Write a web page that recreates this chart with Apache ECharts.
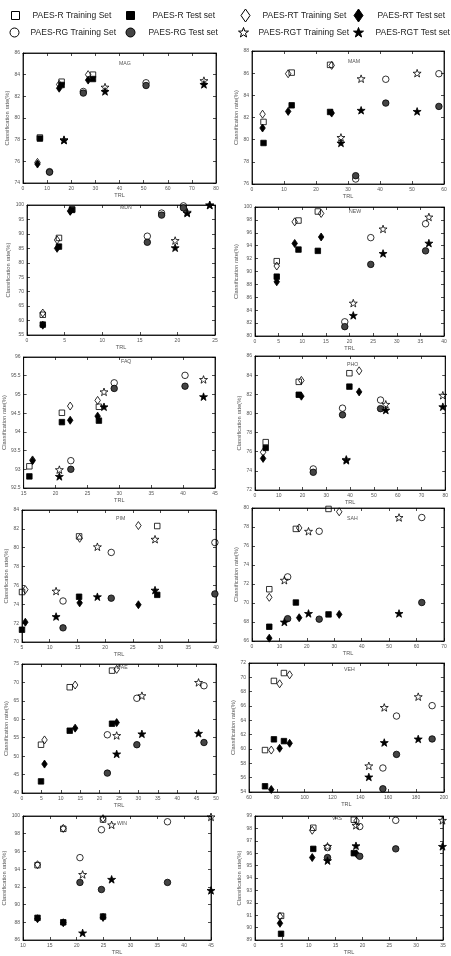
<!DOCTYPE html>
<html>
<head>
<meta charset="utf-8">
<script src="https://cdn.jsdelivr.net/npm/echarts@6/dist/echarts.min.js"></script>
<style>
html,body{margin:0;padding:0;background:#fff;}
#chart{width:451px;height:956px;}
</style>
</head>
<body>
<div id="chart"></div>
<script>
// panel names and axis ranges [min, max, step]
var panels = ['MAG', 'MAM', 'MDN', 'NEW', 'FAQ', 'PHO', 'PIM', 'SAH', 'WAE', 'VEH', 'WIN', 'VAS'];
var xRange = [[0,80,10],[0,60,10],[0,25,5],[0,40,5],[15,45,5],[0,80,10],[5,40,5],[0,70,10],[0,50,5],[60,200,20],[10,45,5],[0,35,5]];
var yRange = [[74,86,2],[76,88,2],[55,100,5],[80,100,2],[92.5,96,0.5],[72,86,2],[70,84,2],[66,80,2],[40,75,5],[54,72,2],[86,100,2],[89,99,1]];

// rows: [TRL, training rate, test rate]
var mag_R   = [[7,78.2,78.1],[16,83.35,83.05],[29,84.0,83.6]];
var mag_RT  = [[6,75.9,75.75],[15,83.1,82.75],[27,84.0,83.5]];
var mag_RG  = [[11,75.05,75.0],[25,82.45,82.3],[51,83.25,83.0]];
var mag_RGT = [[17,78.0,77.95],[34,82.85,82.45],[75,83.45,83.1]];

var mam_R   = [[3.6,81.6,79.7],[12.4,86.05,83.1],[24.4,86.75,82.5]];
var mam_RT  = [[3.3,82.3,81.05],[11.3,85.95,82.55],[24.9,86.7,82.4]];
var mam_RG  = [[32.4,76.45,76.75],[41.8,85.45,83.3],[58.4,85.95,83.0]];
var mam_RGT = [[27.8,80.2,79.7],[34.1,85.5,82.65],[51.6,86.0,82.55]];

var mdn_R   = [[2.1,62.0,58.6],[4.25,88.6,85.6],[6.0,98.5,98.3]];
var mdn_RT  = [[2.1,62.6,58.4],[4.0,87.9,85.0],[5.75,98.0,97.8]];
var mdn_RG  = [[16.0,89.2,87.1],[17.9,97.2,96.5],[20.8,99.7,99.0]];
var mdn_RGT = [[19.7,87.7,85.2],[21.3,97.5,97.2],[24.3,100,100]];

var new_R   = [[4.6,91.6,89.2],[9.2,97.9,93.4],[13.3,99.3,93.2]];
var new_RT  = [[4.6,90.85,88.4],[8.4,97.7,94.35],[14.0,99.0,95.35]];
var new_RG  = [[19.0,82.2,81.45],[24.5,95.25,91.1],[36.1,97.4,93.2]];
var new_RGT = [[20.8,85.1,83.2],[27.1,96.6,92.8],[36.8,98.45,94.4]];

var faq_R   = [[15.9,93.08,92.81],[21.0,94.51,94.26],[26.8,94.67,94.30]];
var faq_RT  = [[16.4,93.25,93.23],[22.3,94.69,94.31],[26.6,94.84,94.42]];
var faq_RG  = [[22.4,93.23,93.0],[29.2,95.31,95.16],[40.3,95.51,95.22]];
var faq_RGT = [[20.6,92.99,92.81],[27.6,95.07,94.67],[43.2,95.40,94.94]];

var pho_R   = [[4.5,77.0,76.4],[18.4,83.3,81.95],[39.7,84.2,82.8]];
var pho_RT  = [[3.4,75.95,75.3],[19.5,83.45,81.8],[43.8,84.45,82.25]];
var pho_RG  = [[24.5,74.2,73.85],[36.8,80.55,79.85],[52.8,81.4,80.5]];
var pho_RGT = [[38.4,75.2,75.1],[55.0,80.95,80.35],[79.0,81.9,80.7]];

var pim_R   = [[5.0,75.3,71.3],[15.3,81.2,74.8],[29.4,82.3,75.0]];
var pim_RT  = [[5.6,75.55,72.1],[15.4,81.0,74.15],[26.0,82.35,73.95]];
var pim_RG  = [[12.4,74.35,71.5],[21.1,79.5,74.65],[39.8,80.55,75.1]];
var pim_RGT = [[11.15,75.4,72.7],[18.6,80.1,74.8],[29.0,80.9,75.5]];

var sah_R   = [[6.3,71.45,67.5],[16.0,77.8,70.05],[27.9,79.9,68.8]];
var sah_RT  = [[6.3,70.6,66.3],[17.2,77.9,68.45],[31.8,79.6,68.8]];
var sah_RG  = [[13.0,72.75,68.35],[24.5,77.55,68.3],[61.9,79.0,70.05]];
var sah_RGT = [[11.8,72.4,68.0],[20.6,77.55,68.9],[53.6,79.0,68.9]];

var wae_R   = [[4.9,53.1,43.15],[12.3,68.7,56.9],[23.2,73.2,58.8]];
var wae_RT  = [[5.8,54.4,47.85],[13.7,69.3,57.6],[24.4,73.55,59.1]];
var wae_RG  = [[22.0,55.8,45.4],[29.6,65.7,53.1],[46.9,69.1,53.7]];
var wae_RGT = [[24.4,55.6,50.6],[30.9,66.4,56.05],[45.5,70.0,56.2]];

var veh_R   = [[71.5,59.85,54.8],[77.9,69.5,61.35],[85.1,70.6,61.1]];
var veh_RT  = [[76.0,59.85,54.35],[82.0,69.1,60.1],[89.2,70.35,60.8]];
var veh_RG  = [[156.2,57.35,54.45],[166.0,64.6,59.25],[191.6,66.05,61.4]];
var veh_RGT = [[146.1,57.65,56.1],[157.2,65.8,60.9],[181.6,67.3,61.4]];

var win_R   = [[12.7,94.45,88.5],[17.5,98.55,88.0],[24.9,99.6,88.65]];
var win_RT  = [[12.7,94.5,88.4],[17.5,98.6,87.95],[24.9,99.7,88.55]];
var win_RG  = [[20.6,95.3,92.5],[24.6,98.45,91.7],[36.9,99.35,92.5]];
var win_RGT = [[21.1,93.4,86.8],[26.5,99.0,92.85],[45.0,99.9,91.6]];

var vas_R   = [[4.85,90.95,89.5],[10.85,98.05,96.35],[18.4,98.7,96.0]];
var vas_RT  = [[4.65,90.9,90.35],[10.65,97.85,95.65],[18.9,98.6,95.95]];
var vas_RG  = [[13.5,96.45,95.65],[19.5,98.15,95.75],[26.2,98.65,96.35]];
var vas_RGT = [[13.5,96.55,95.4],[18.8,98.25,96.6],[34.9,98.65,96.55]];

var dataR   = [mag_R, mam_R, mdn_R, new_R, faq_R, pho_R, pim_R, sah_R, wae_R, veh_R, win_R, vas_R];
var dataRT  = [mag_RT, mam_RT, mdn_RT, new_RT, faq_RT, pho_RT, pim_RT, sah_RT, wae_RT, veh_RT, win_RT, vas_RT];
var dataRG  = [mag_RG, mam_RG, mdn_RG, new_RG, faq_RG, pho_RG, pim_RG, sah_RG, wae_RG, veh_RG, win_RG, vas_RG];
var dataRGT = [mag_RGT, mam_RGT, mdn_RGT, new_RGT, faq_RGT, pho_RGT, pim_RGT, sah_RGT, wae_RGT, veh_RGT, win_RGT, vas_RGT];
var methodData = [dataR, dataRT, dataRG, dataRGT];

var seriesNames = ['PAES-R Training Set', 'PAES-R Test set', 'PAES-RT Training Set', 'PAES-RT Test set',
                   'PAES-RG Training Set', 'PAES-RG Test set', 'PAES-RGT Training Set', 'PAES-RGT Test set'];

var starPath = 'path://M0,-10L2.35,-3.24L9.51,-3.09L3.8,1.24L5.88,8.09L0,4L-5.88,8.09L-3.8,1.24L-9.51,-3.09L-2.35,-3.24Z';

// marker look per series (same order as seriesNames)
var marks = [
    {symbol: 'rect', size: 5.5, fill: 'transparent'},
    {symbol: 'rect', size: 5.5, fill: '#000'},
    {symbol: 'diamond', size: [5.5, 8], fill: 'transparent'},
    {symbol: 'diamond', size: [5.5, 8], fill: '#000'},
    {symbol: 'circle', size: 6.5, fill: 'transparent'},
    {symbol: 'circle', size: 6.5, fill: '#444'},
    {symbol: starPath, size: 8, fill: 'transparent'},
    {symbol: starPath, size: 8, fill: '#000'}
];

// grid rectangles [left, top, width, height]
var rects = [
    [23,53,193,130], [252,51,192,133],
    [27,205,188,130], [255,207,189,129],
    [23,357,192,131], [255,356,193,134],
    [22,510,194,132], [252,508,192,133],
    [22,664,194,129], [249,663,195,129],
    [23,816,188,129], [255,816,188,129]
];
var titlePos = [[125,64],[354,62],[126,208],[355,212],[127,362],[353,365],[122,519],[353,519],[122,668],[350,670],[123,824],[338,819]];

var txtGray = '#555';
var grids = [], xAxes = [], yAxes = [], titles = [], series = [];

for (var p = 0; p < panels.length; p++) {
    var r = rects[p];
    grids.push({left: r[0], top: r[1], width: r[2], height: r[3], show: true, borderColor: '#000', borderWidth: 0.8, containLabel: false});
    var axLine = {show: true, onZero: false, lineStyle: {color: '#000', width: 0.8}};
    var axTick = {show: true, inside: true, length: 3, lineStyle: {color: '#000', width: 0.7}};
    xAxes[p] = {
        gridIndex: p, type: 'value', min: xRange[p][0], max: xRange[p][1], interval: xRange[p][2],
        name: 'TRL', nameLocation: 'middle', nameGap: 9,
        nameTextStyle: {fontSize: 5.5, color: txtGray, fontFamily: 'Liberation Sans'},
        axisLine: axLine, axisTick: axTick,
        axisLabel: {fontSize: 5, color: txtGray, margin: 3, fontFamily: 'Liberation Sans'},
        splitLine: {show: false}
    };
    xAxes[p + 12] = {
        gridIndex: p, type: 'value', position: 'top', min: xRange[p][0], max: xRange[p][1], interval: xRange[p][2],
        axisLine: axLine, axisTick: axTick, axisLabel: {show: false}, splitLine: {show: false}
    };
    yAxes[p] = {
        gridIndex: p, type: 'value', min: yRange[p][0], max: yRange[p][1], interval: yRange[p][2],
        name: 'Classification rate(%)', nameLocation: 'middle', nameGap: 9,
        nameTextStyle: {fontSize: 5.8, color: txtGray, fontFamily: 'Liberation Sans'},
        axisLine: axLine, axisTick: axTick,
        axisLabel: {fontSize: 5, color: txtGray, margin: 3, fontFamily: 'Liberation Sans'},
        splitLine: {show: false}
    };
    yAxes[p + 12] = {
        gridIndex: p, type: 'value', position: 'right', min: yRange[p][0], max: yRange[p][1], interval: yRange[p][2],
        axisLine: axLine, axisTick: axTick, axisLabel: {show: false}, splitLine: {show: false}
    };
    titles.push({
        text: panels[p], left: titlePos[p][0] - 6, top: titlePos[p][1] - 3, padding: 0,
        textStyle: {fontSize: 5.2, fontWeight: 'normal', color: txtGray, fontFamily: 'Liberation Sans'}
    });

    for (var m = 0; m < 4; m++) {
        var rows = methodData[m][p];
        for (var k = 0; k < 2; k++) {
            var s = m * 2 + k;
            var mk = marks[s];
            series.push({
                type: 'scatter', name: seriesNames[s], xAxisIndex: p, yAxisIndex: p,
                symbol: mk.symbol, symbolSize: mk.size, symbolKeepAspect: true,
                itemStyle: {color: mk.fill, borderColor: '#000', borderWidth: 0.8, opacity: 1},
                silent: true, z: 2 + k,
                data: rows.map(function (row) { return [row[0], row[1 + k]]; })
            });
        }
    }
}

// legend: one component per entry, placed like the figure's key
var legendSpots = [
    // [icon left, icon center y, icon w, icon h, extra text gap]
    [11, 15, 8, 8, 8], [126, 15, 8, 8, 13], [240.5, 15, 9, 13, 7.5], [353.5, 15, 9, 13, 9.5],
    [9.5, 32, 9, 9, 6.5], [125.5, 32, 9, 9, 8.5], [238, 32, 10, 10, 5], [353, 32, 10, 10, 7]
];
var legends = legendSpots.map(function (sp, i) {
    return {
        data: [seriesNames[i]], left: sp[0], top: sp[1] - sp[3] / 2, padding: 0,
        itemWidth: sp[2], itemHeight: sp[3], selectedMode: false,
        itemStyle: {borderColor: '#000', borderWidth: 1},
        textStyle: {fontSize: 8.5, color: '#222', fontFamily: 'Liberation Sans', padding: [0, 0, 0, sp[4]]}
    };
});

var chart = echarts.init(document.getElementById('chart'));
chart.setOption({
    animation: false,
    backgroundColor: '#fff',
    title: titles,
    legend: legends,
    grid: grids,
    xAxis: xAxes,
    yAxis: yAxes,
    series: series
});
</script>
</body>
</html>
